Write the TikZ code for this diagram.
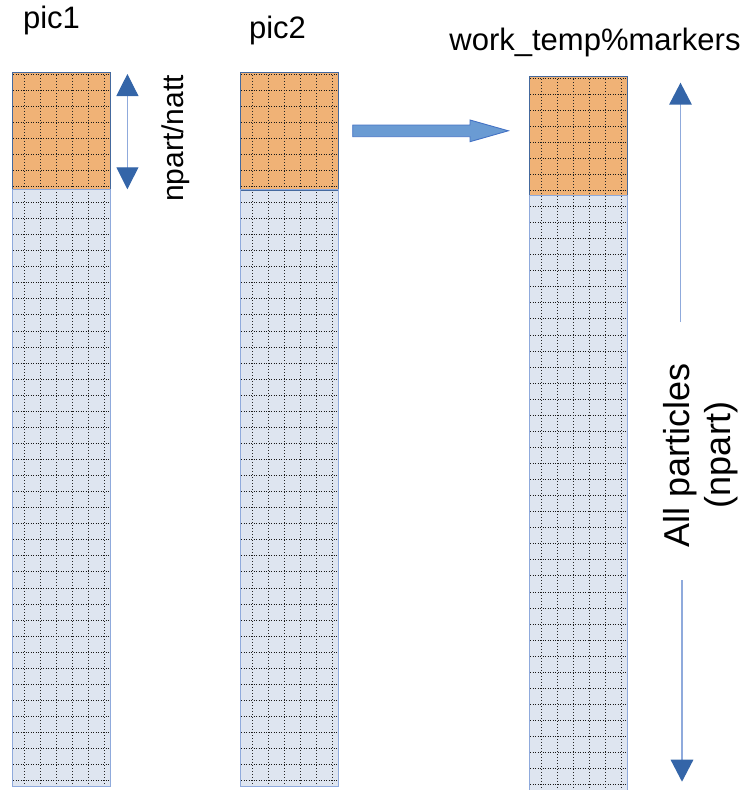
\documentclass[tikz,border=0pt]{standalone}
\usepackage{fontspec}
\setmainfont{Liberation Sans}
\usetikzlibrary{arrows.meta}
\definecolor{orangefill}{HTML}{F0B276}
\definecolor{bluefill}{HTML}{DEE5F0}
\definecolor{darkedge}{HTML}{44699E}
\definecolor{lightedge}{HTML}{8FAADC}
\definecolor{headblue}{HTML}{3465A8}
\definecolor{bigarrowfill}{HTML}{6A9BD3}
\definecolor{bigarrowedge}{HTML}{4472C4}
% #1 left edge (half-integer), #2 top (integer), #3 bottom
\newcommand\gridcol[3]{%
  \begin{scope}
    \clip (#1,#2) rectangle ++(98,#3-#2);
    \foreach \k in {0,...,44} {
      \pgfmathsetmacro\yy{round(#2+1.6+16.06*\k)+0.5}
      \draw[hdots] (#1+0.5,\yy) -- ++(98,0);}
    \foreach \k in {0,...,5} \draw[vdots] (#1+12+16*\k,#2) -- (#1+12+16*\k,#3);
  \end{scope}}
\begin{document}
\begin{tikzpicture}[x=1pt,y=-1pt,
  hdots/.style={black!90, line width=1.2pt, dash pattern=on 1pt off 1.5pt},
  vdots/.style={black!85, line width=1.2pt, dash pattern=on 1pt off 2pt},
  orangebox/.style={draw=darkedge, line width=0.9pt, fill=orangefill, inner sep=0pt, outer sep=0pt, anchor=north west, minimum width=98pt},
  bluebox/.style={draw=lightedge, line width=1pt, fill=bluefill, inner sep=0pt, outer sep=0pt, anchor=north west, minimum width=98pt},
  lbl/.style={font=\fontsize{31}{37}\selectfont, inner sep=0pt, anchor=base},
  bigtxt/.style={font=\fontsize{36}{41}\selectfont, align=center, inner sep=0pt, rotate=90},
  shaft/.style={lightedge, line width=1.6pt},
  tipA/.style={-{Triangle[length=22pt,width=22.5pt,color=headblue]}},
]
\useasboundingbox (0,0) rectangle (750,790);
\clip (0,0) rectangle (750,790);

% column 1
\node[bluebox, minimum height=597pt] (c1) at (12.5,189) {};
\node[orangebox, minimum height=117pt] (o1) at (12.5,72) {};
\gridcol{12.5}{72}{786}
\draw[darkedge, line width=0.9pt] (o1.north west) rectangle (o1.south east);
\draw[lightedge, line width=1pt] (c1.north west) rectangle (c1.south east);

% column 2
\node[bluebox, minimum height=597pt] (c2) at (240.5,189) {};
\node[orangebox, minimum height=118pt] (o2) at (240.5,72) {};
\gridcol{240.5}{72}{786}
\draw[darkedge, line width=0.9pt] (o2.north west) rectangle (o2.south east);
\draw[lightedge, line width=1pt] (c2.north west) rectangle (c2.south east);

% column 3
\node[bluebox, minimum height=610pt] (c3) at (529.5,195) {};
\node[orangebox, minimum height=119pt] (o3) at (529.5,76) {};
\gridcol{529.5}{76}{805}
\draw[darkedge, line width=0.9pt] (o3.north west) rectangle (o3.south east);
\draw[lightedge, line width=1pt] (c3.north west) rectangle (c3.south east);

% titles
\node[lbl] (t1) at (51.5,28.3) {pic1};
\node[lbl] (t2) at (277.5,38.3) {pic2};
\node[lbl] (t3) at (595,50) {work\_temp\%markers};

% npart/natt double arrow
\coordinate (d1) at (127.4,74);
\coordinate (d2) at (127.4,189.3);
\draw[lightedge, line width=1pt, {Triangle[length=22pt,width=22pt,color=headblue]}-{Triangle[length=22pt,width=22pt,color=headblue]}] (d1) -- (d2);
\node[font=\fontsize{30}{36}\selectfont, inner sep=0pt, rotate=90, anchor=base] (nn) at (183,138.5) {npart/natt};

% big block arrow
\filldraw[fill=bigarrowfill, draw=bigarrowedge, line width=0.9pt]
  (352.7,125) -- (470,125) -- (470,120) -- (508.3,130.8) -- (470,141.7) -- (470,136.7) -- (352.7,136.7) -- cycle;

% all particles arrow
\node[bigtxt] (ap) at (701,455) {All particles\\(npart)};
\coordinate (u1) at (680.5,322);
\coordinate (u2) at (680.5,82.7);
\coordinate (w1) at (682,580);
\coordinate (w2) at (682,781.7);
\draw[shaft, tipA] (u1) -- (u2);
\draw[shaft, tipA] (w1) -- (w2);
\end{tikzpicture}
\end{document}
